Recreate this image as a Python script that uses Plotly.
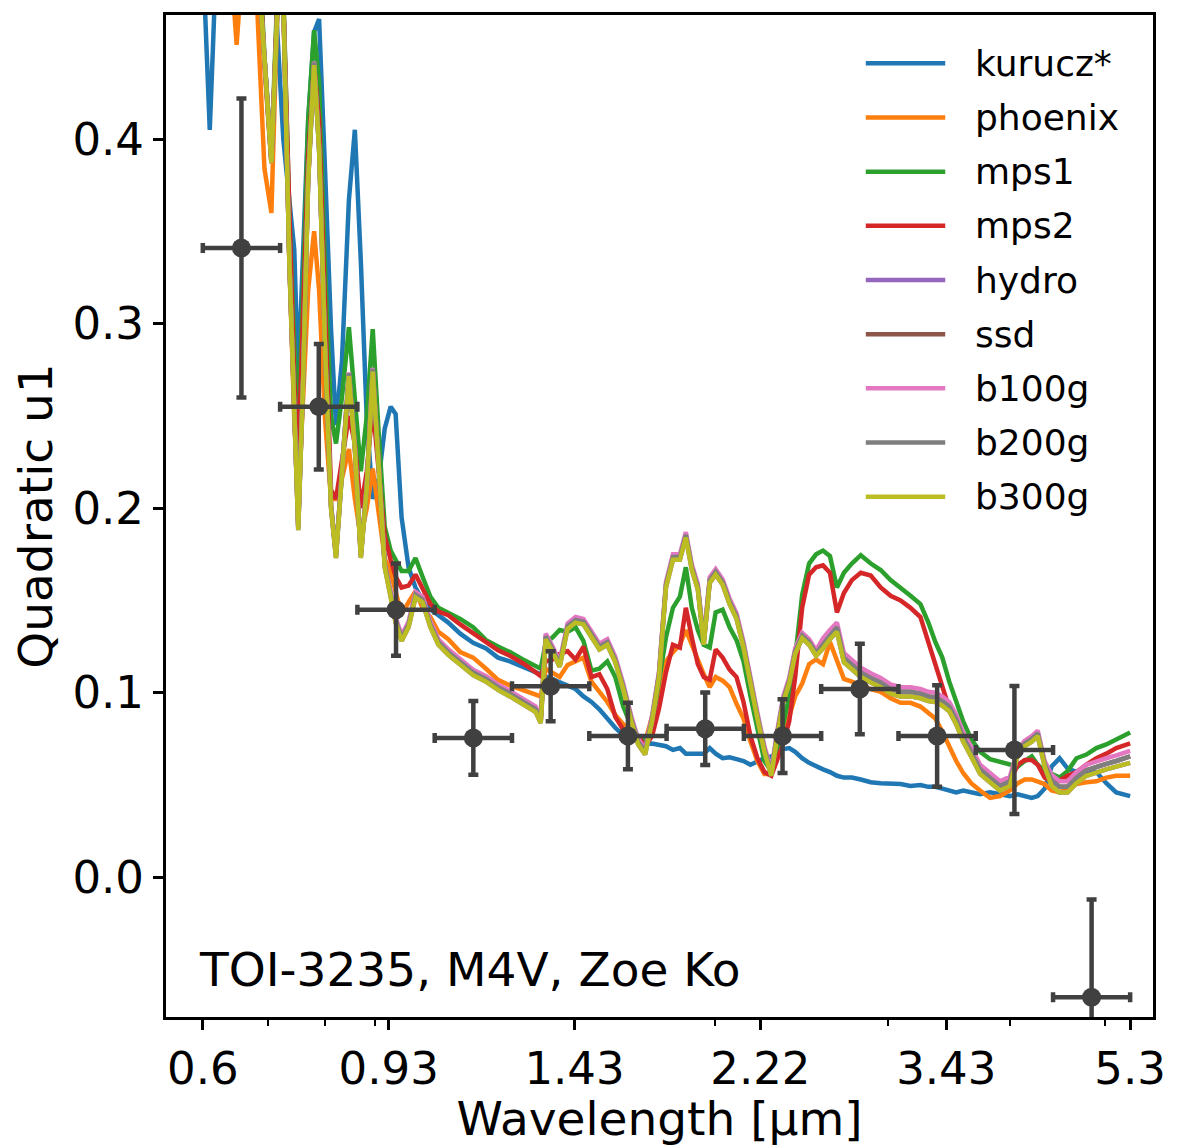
import plotly.graph_objects as go

# ---------------- data ----------------
wavelength = [
    0.6000, 0.6056, 0.6099, 0.6142, 0.6214, 0.6316, 0.6420, 0.6496, 0.6572, 0.6696,
    0.6822, 0.6935, 0.7049, 0.7148, 0.7249, 0.7352, 0.7438, 0.7508, 0.7596, 0.7685,
    0.7793, 0.7885, 0.7996, 0.8109, 0.8204, 0.8320, 0.8457, 0.8576, 0.8697, 0.8820,
    0.8944, 0.9071, 0.9199, 0.9328, 0.9438, 0.9571, 0.9729, 0.9889, 1.0052, 1.0242,
    1.0435,
    1.0681, 1.0985, 1.1323, 1.1672, 1.2004, 1.2345, 1.2726, 1.3118, 1.3272, 1.3428,
    1.3649, 1.3874, 1.4135, 1.4402, 1.4674, 1.4951, 1.5232, 1.5519, 1.5812, 1.6110,
    1.6414, 1.6685, 1.6960, 1.7239, 1.7523, 1.7812, 1.8105, 1.8404, 1.8663, 1.8927,
    1.9194, 1.9464, 1.9739, 2.0018, 2.0347, 2.0683, 2.1023, 2.1370, 2.1723, 2.2081,
    2.2445, 2.2813, 2.3136, 2.3462, 2.3793, 2.4129, 2.4527, 2.4931, 2.5340, 2.5759,
    2.6184, 2.6615, 2.7054, 2.7564, 2.8149, 2.8815, 2.9495, 3.0192, 3.0905, 3.1635,
    3.2383, 3.2993, 3.3534, 3.4090, 3.4652, 3.5222, 3.5803, 3.6478, 3.7253, 3.8133,
    3.9034, 3.9956, 4.0709, 4.1375, 4.2062, 4.2656, 4.3354, 4.4073, 4.4904, 4.5751,
    4.6722, 4.7826, 4.8956, 5.0113, 5.1297, 5.3000,
]

kurucz = [
    0.50, 0.442, 0.405, 0.447, 0.52, 0.56, 0.56, 0.56, 0.56, 0.56,
    0.56, 0.56, 0.53, 0.458, 0.40, 0.37, 0.34, 0.27, 0.335, 0.41,
    0.458, 0.465, 0.383, 0.297, 0.245, 0.28, 0.367, 0.405, 0.334, 0.248,
    0.205, 0.216, 0.243, 0.255, 0.251, 0.195, 0.168, 0.157, 0.150, 0.145,
    0.142,
    0.138, 0.132, 0.127, 0.124, 0.119, 0.117, 0.114, 0.111, 0.110, 0.109,
    0.1075, 0.106, 0.104, 0.102, 0.098, 0.095, 0.091, 0.086, 0.081, 0.077,
    0.075, 0.074, 0.072, 0.0725, 0.072, 0.071, 0.069, 0.070, 0.067, 0.067,
    0.067, 0.067, 0.070, 0.067, 0.0645, 0.065, 0.064, 0.063, 0.061, 0.063,
    0.0645, 0.0655, 0.067, 0.0695, 0.070, 0.068, 0.0645, 0.062, 0.060, 0.0585,
    0.057, 0.055, 0.054, 0.054, 0.053, 0.0515, 0.051, 0.051, 0.0505, 0.0495,
    0.050, 0.049, 0.049, 0.048, 0.047, 0.046, 0.047, 0.046, 0.045, 0.046,
    0.045, 0.044, 0.045, 0.044, 0.043, 0.044, 0.048, 0.060, 0.0645, 0.059,
    0.057, 0.0575, 0.057, 0.051, 0.046, 0.044,
]

phoenix = [
    0.55, 0.55, 0.55, 0.55, 0.55, 0.53, 0.49, 0.451, 0.49, 0.55,
    0.468, 0.384, 0.36, 0.47, 0.48, 0.334, 0.248, 0.205, 0.26, 0.318,
    0.35, 0.318, 0.248, 0.205, 0.205, 0.216, 0.232, 0.205, 0.184, 0.20,
    0.2215, 0.195, 0.173, 0.165, 0.154, 0.1425, 0.149, 0.155, 0.146, 0.141,
    0.133,
    0.129, 0.122, 0.119, 0.113, 0.107, 0.104, 0.1015, 0.099, 0.098, 0.113,
    0.111, 0.1085, 0.115, 0.117, 0.119, 0.106, 0.1005, 0.095, 0.088, 0.083,
    0.079, 0.0765, 0.0735, 0.087, 0.103, 0.117, 0.122, 0.126, 0.134, 0.126,
    0.117, 0.110, 0.103, 0.1085, 0.1065, 0.103, 0.094, 0.086, 0.0735, 0.063,
    0.056, 0.056, 0.068, 0.0765, 0.087, 0.098, 0.105, 0.1155, 0.118, 0.1155,
    0.1275, 0.117, 0.1075, 0.106, 0.104, 0.102, 0.1005, 0.097, 0.0945, 0.0945,
    0.0925, 0.089, 0.086, 0.079, 0.071, 0.063, 0.0565, 0.051, 0.047, 0.043,
    0.044, 0.047, 0.051, 0.053, 0.053, 0.052, 0.0505, 0.047, 0.046, 0.048,
    0.0505, 0.0515, 0.052, 0.054, 0.055, 0.055,
]

mps1 = [
    0.55, 0.55, 0.55, 0.55, 0.55, 0.55, 0.55, 0.55, 0.55, 0.55,
    0.52, 0.445, 0.39, 0.48, 0.48, 0.36, 0.29, 0.245, 0.32, 0.41,
    0.459, 0.43, 0.33, 0.25, 0.235, 0.26, 0.298, 0.26, 0.22, 0.25,
    0.297, 0.24, 0.19, 0.177, 0.172, 0.166, 0.166, 0.173, 0.163, 0.152,
    0.146,
    0.1435, 0.140, 0.1355, 0.1285, 0.125, 0.122, 0.118, 0.1145, 0.113, 0.127,
    0.130, 0.134, 0.133, 0.1355, 0.128, 0.112, 0.113, 0.117, 0.1085, 0.0925,
    0.082, 0.0765, 0.0735, 0.083, 0.1085, 0.130, 0.146, 0.152, 0.168, 0.146,
    0.134, 0.126, 0.1245, 0.1435, 0.145, 0.1355, 0.1285, 0.117, 0.098, 0.079,
    0.063, 0.0575, 0.0655, 0.083, 0.098, 0.119, 0.153, 0.170, 0.175, 0.177,
    0.174, 0.157, 0.165, 0.170, 0.1745, 0.170, 0.1665, 0.161, 0.157, 0.1525,
    0.148, 0.138, 0.1275, 0.119, 0.106, 0.095, 0.0845, 0.075, 0.068, 0.064,
    0.0625, 0.061, 0.060, 0.063, 0.0655, 0.061, 0.0575, 0.056, 0.054, 0.0575,
    0.0645, 0.0665, 0.070, 0.072, 0.075, 0.0785,
]

mps2 = [
    0.55, 0.55, 0.55, 0.55, 0.55, 0.55, 0.55, 0.55, 0.55, 0.55,
    0.52, 0.44, 0.387, 0.475, 0.475, 0.35, 0.27, 0.225, 0.30, 0.39,
    0.44, 0.41, 0.31, 0.21, 0.205, 0.225, 0.25, 0.235, 0.20, 0.22,
    0.255, 0.22, 0.185, 0.172, 0.163, 0.157, 0.158, 0.164, 0.156, 0.148,
    0.144,
    0.142, 0.137, 0.132, 0.127, 0.123, 0.120, 0.116, 0.111, 0.109, 0.117,
    0.118, 0.121, 0.1225, 0.118, 0.125, 0.1085, 0.110, 0.102, 0.087, 0.080,
    0.0775, 0.0765, 0.071, 0.0765, 0.0915, 0.111, 0.126, 0.1245, 0.146, 0.130,
    0.1155, 0.1085, 0.107, 0.1235, 0.119, 0.1125, 0.1085, 0.095, 0.0765, 0.0645,
    0.057, 0.055, 0.063, 0.0725, 0.0845, 0.1085, 0.146, 0.164, 0.168, 0.169,
    0.165, 0.1435, 0.154, 0.161, 0.165, 0.1635, 0.157, 0.1525, 0.150, 0.146,
    0.141, 0.1275, 0.115, 0.103, 0.0915, 0.083, 0.0765, 0.068, 0.060, 0.053,
    0.0495, 0.052, 0.061, 0.0635, 0.0635, 0.061, 0.054, 0.052, 0.0525, 0.055,
    0.057, 0.061, 0.0645, 0.067, 0.070, 0.0725,
]

hydro = [
    0.55, 0.55, 0.55, 0.55, 0.55, 0.55, 0.55, 0.55, 0.55, 0.55,
    0.50, 0.442, 0.387, 0.47, 0.475, 0.334, 0.243, 0.188, 0.27, 0.377,
    0.44, 0.394, 0.286, 0.20, 0.173, 0.221, 0.2715, 0.232, 0.173, 0.211,
    0.274, 0.2215, 0.168, 0.152, 0.138, 0.128, 0.1355, 0.1516, 0.149, 0.1355,
    0.126,
    0.1205, 0.1155, 0.1095, 0.106, 0.1015, 0.098, 0.094, 0.0895, 0.0835, 0.129,
    0.122, 0.114, 0.1345, 0.138, 0.137, 0.130, 0.1235, 0.126, 0.1165, 0.102,
    0.0845, 0.072, 0.0665, 0.0845, 0.1085, 0.157, 0.172, 0.172, 0.184, 0.1665,
    0.156, 0.126, 0.1595, 0.164, 0.1585, 0.148, 0.140, 0.1245, 0.104, 0.086,
    0.068, 0.055, 0.0765, 0.095, 0.105, 0.121, 0.1295, 0.126, 0.120, 0.124,
    0.129, 0.133, 0.1165, 0.1125, 0.1085, 0.1055, 0.103, 0.0995, 0.098, 0.098,
    0.097, 0.0955, 0.095, 0.093, 0.090, 0.083, 0.0735, 0.0655, 0.056, 0.0515,
    0.047, 0.0495, 0.0665, 0.071, 0.0735, 0.0765, 0.060, 0.0495, 0.046, 0.046,
    0.051, 0.055, 0.057, 0.0585, 0.060, 0.062,
]

ssd = [
    0.55, 0.55, 0.55, 0.55, 0.55, 0.55, 0.55, 0.55, 0.55, 0.55,
    0.50, 0.4435, 0.3885, 0.47, 0.475, 0.3355, 0.2445, 0.1895, 0.2715, 0.3785,
    0.4415, 0.3955, 0.2875, 0.2015, 0.1745, 0.2225, 0.273, 0.2335, 0.1745, 0.2125,
    0.2755, 0.223, 0.1695, 0.1535, 0.1395, 0.1295, 0.137, 0.1531, 0.1505, 0.137,
    0.1275,
    0.122, 0.117, 0.111, 0.1075, 0.103, 0.0995, 0.0955, 0.091, 0.085, 0.1305,
    0.1235, 0.1155, 0.136, 0.1395, 0.1385, 0.1315, 0.125, 0.1275, 0.118, 0.1035,
    0.086, 0.0735, 0.068, 0.086, 0.11, 0.1585, 0.1735, 0.1735, 0.1855, 0.168,
    0.1575, 0.1275, 0.161, 0.1655, 0.16, 0.1495, 0.1415, 0.126, 0.1055, 0.0875,
    0.0695, 0.0565, 0.078, 0.0965, 0.1065, 0.1225, 0.131, 0.1275, 0.1215, 0.1265,
    0.1315, 0.1355, 0.119, 0.115, 0.111, 0.108, 0.1055, 0.102, 0.1005, 0.1005,
    0.0995, 0.098, 0.0975, 0.0955, 0.0925, 0.0855, 0.076, 0.068, 0.0585, 0.054,
    0.0495, 0.052, 0.068, 0.0725, 0.075, 0.078, 0.0615, 0.0525, 0.049, 0.049,
    0.054, 0.058, 0.060, 0.0615, 0.063, 0.0655,
]

b100g = [
    0.55, 0.55, 0.55, 0.55, 0.55, 0.55, 0.55, 0.55, 0.55, 0.55,
    0.50, 0.444, 0.389, 0.47, 0.475, 0.336, 0.245, 0.19, 0.272, 0.379,
    0.442, 0.396, 0.288, 0.202, 0.175, 0.223, 0.2735, 0.234, 0.175, 0.213,
    0.276, 0.2235, 0.170, 0.155, 0.141, 0.131, 0.1385, 0.1546, 0.152, 0.1385,
    0.129,
    0.1235, 0.1185, 0.1125, 0.109, 0.1045, 0.101, 0.097, 0.0925, 0.0865, 0.132,
    0.125, 0.117, 0.1375, 0.141, 0.140, 0.133, 0.1265, 0.129, 0.1195, 0.105,
    0.0875, 0.075, 0.0695, 0.0875, 0.1115, 0.160, 0.175, 0.175, 0.187, 0.1695,
    0.159, 0.129, 0.1625, 0.167, 0.1615, 0.151, 0.143, 0.1275, 0.107, 0.089,
    0.071, 0.058, 0.0795, 0.098, 0.108, 0.124, 0.1325, 0.129, 0.123, 0.1295,
    0.134, 0.138, 0.1215, 0.1175, 0.1135, 0.1105, 0.108, 0.1045, 0.103, 0.103,
    0.102, 0.1005, 0.100, 0.098, 0.095, 0.088, 0.0785, 0.0705, 0.061, 0.0565,
    0.052, 0.0545, 0.0695, 0.074, 0.0765, 0.0795, 0.063, 0.0555, 0.052, 0.052,
    0.057, 0.061, 0.063, 0.0645, 0.066, 0.0685,
]

b200g = [
    0.55, 0.55, 0.55, 0.55, 0.55, 0.55, 0.55, 0.55, 0.55, 0.55,
    0.50, 0.4435, 0.3885, 0.47, 0.475, 0.3355, 0.2445, 0.1895, 0.2715, 0.3785,
    0.4415, 0.3955, 0.2875, 0.2015, 0.1745, 0.2225, 0.273, 0.2335, 0.1745, 0.2125,
    0.2755, 0.223, 0.1695, 0.1535, 0.1395, 0.1295, 0.137, 0.1531, 0.1505, 0.137,
    0.1275,
    0.122, 0.117, 0.111, 0.1075, 0.103, 0.0995, 0.0955, 0.091, 0.085, 0.1305,
    0.1235, 0.1155, 0.136, 0.1395, 0.1385, 0.1315, 0.125, 0.1275, 0.118, 0.1035,
    0.086, 0.0735, 0.068, 0.086, 0.11, 0.1585, 0.1735, 0.1735, 0.1855, 0.168,
    0.1575, 0.1275, 0.161, 0.1655, 0.16, 0.1495, 0.1415, 0.126, 0.1055, 0.0875,
    0.0695, 0.0565, 0.078, 0.0965, 0.1065, 0.1225, 0.131, 0.1275, 0.1215, 0.1265,
    0.1315, 0.1355, 0.119, 0.115, 0.111, 0.108, 0.1055, 0.102, 0.1005, 0.1005,
    0.0995, 0.098, 0.0975, 0.0955, 0.0925, 0.0855, 0.076, 0.068, 0.0585, 0.054,
    0.0495, 0.052, 0.068, 0.0725, 0.075, 0.078, 0.0615, 0.0525, 0.049, 0.049,
    0.054, 0.058, 0.060, 0.0615, 0.063, 0.0655,
]

b300g = [
    0.55, 0.55, 0.55, 0.55, 0.55, 0.55, 0.55, 0.55, 0.55, 0.55,
    0.50, 0.442, 0.387, 0.47, 0.475, 0.334, 0.243, 0.188, 0.27, 0.377,
    0.44, 0.394, 0.286, 0.20, 0.173, 0.221, 0.2715, 0.232, 0.173, 0.211,
    0.274, 0.2215, 0.168, 0.152, 0.138, 0.128, 0.1355, 0.1516, 0.149, 0.1355,
    0.126,
    0.1205, 0.1155, 0.1095, 0.106, 0.1015, 0.098, 0.094, 0.0895, 0.0835, 0.129,
    0.122, 0.114, 0.1345, 0.138, 0.137, 0.130, 0.1235, 0.126, 0.1165, 0.102,
    0.0845, 0.072, 0.0665, 0.0845, 0.1085, 0.157, 0.172, 0.172, 0.184, 0.1665,
    0.156, 0.126, 0.1595, 0.164, 0.1585, 0.148, 0.140, 0.1245, 0.104, 0.086,
    0.068, 0.055, 0.0765, 0.095, 0.105, 0.121, 0.1295, 0.126, 0.120, 0.124,
    0.129, 0.133, 0.1165, 0.1125, 0.1085, 0.1055, 0.103, 0.0995, 0.098, 0.098,
    0.097, 0.0955, 0.095, 0.093, 0.090, 0.083, 0.0735, 0.0655, 0.056, 0.0515,
    0.047, 0.0495, 0.0665, 0.071, 0.0735, 0.0765, 0.060, 0.0495, 0.046, 0.046,
    0.051, 0.055, 0.057, 0.0585, 0.060, 0.062,
]

series_names = ["kurucz*", "phoenix", "mps1", "mps2", "hydro", "ssd", "b100g", "b200g", "b300g"]
series_values = [kurucz, phoenix, mps1, mps2, hydro, ssd, b100g, b200g, b300g]
series_colors = ["#1f77b4", "#ff7f0e", "#2ca02c", "#d62728", "#9467bd",
                 "#8c564b", "#e377c2", "#7f7f7f", "#bcbd22"]

# measured band-integrated coefficients
bin_lo = [0.6, 0.7195, 0.8627, 1.0345, 1.2405, 1.4875, 1.7837, 2.1389, 2.5648, 3.0755, 3.6879, 4.4222]
bin_hi = [0.7195, 0.8627, 1.0345, 1.2405, 1.4875, 1.7837, 2.1389, 2.5648, 3.0755, 3.6879, 4.4222, 5.3]
bin_center = [0.6570, 0.7879, 0.9447, 1.1328, 1.3584, 1.6289, 1.9532, 2.3422, 2.8086, 3.3678, 4.0385, 4.8412]
u1_obs = [0.341, 0.255, 0.145, 0.0755, 0.1035, 0.0765, 0.0805, 0.0765, 0.102, 0.0765, 0.069, -0.065]
u1_err = [0.081, 0.034, 0.025, 0.020, 0.019, 0.018, 0.0196, 0.020, 0.0245, 0.0275, 0.0347, 0.053]

xtick_vals = [0.6, 0.9285, 1.4368, 2.2235, 3.441, 5.3]
xtick_text = ["0.6", "0.93", "1.43", "2.22", "3.43", "5.3"]
xminor_vals = [0.7, 0.8, 0.9, 2, 3, 4, 5]
ytick_vals = [0.0, 0.1, 0.2, 0.3, 0.4]
ytick_text = ["0.0", "0.1", "0.2", "0.3", "0.4"]

# ---------------- figure ----------------
FONT = "DejaVu Sans"
LINE_W = 4.5
fig = go.Figure()

for name, vals, color in zip(series_names, series_values, series_colors):
    fig.add_trace(go.Scatter(
        x=wavelength, y=vals, mode="lines", name=name,
        line=dict(color=color, width=LINE_W), showlegend=False,
    ))

err_plus = [hi - c for hi, c in zip(bin_hi, bin_center)]
err_minus = [c - lo for lo, c in zip(bin_lo, bin_center)]
fig.add_trace(go.Scatter(
    x=bin_center, y=u1_obs, mode="markers", name="data", showlegend=False,
    marker=dict(size=19, color="#404040"),
    error_x=dict(type="data", symmetric=False, array=err_plus, arrayminus=err_minus,
                 color="#404040", thickness=4.5, width=5),
    error_y=dict(type="data", array=u1_err, color="#404040", thickness=4.5, width=5),
))

# legend drawn like the original (long line samples)
leg_y0 = 0.9518
leg_dy = 0.05407
for i, (name, color) in enumerate(zip(series_names, series_colors)):
    y = leg_y0 - i * leg_dy
    fig.add_shape(type="line", xref="paper", yref="paper",
                  x0=0.7090, x1=0.7895, y0=y, y1=y,
                  line=dict(color=color, width=LINE_W))
    fig.add_annotation(xref="paper", yref="paper", x=0.8177, y=y,
                       xanchor="left", yanchor="middle", showarrow=False,
                       text=name, font=dict(family=FONT, size=36, color="black"))

fig.add_annotation(xref="paper", yref="paper", x=0.0312, y=0.047,
                   xanchor="left", yanchor="middle", showarrow=False,
                   text="TOI-3235, M4V, Zoe Ko",
                   font=dict(family=FONT, size=47, color="black"))

fig.update_layout(
    width=1178, height=1146,
    margin=dict(l=166, r=19, t=12, b=123),
    paper_bgcolor="white", plot_bgcolor="white",
    font=dict(family=FONT, color="black", size=45),
    showlegend=False,
)

fig.update_xaxes(
    type="log", range=[-0.2594, 0.7476],
    tickmode="array", tickvals=xtick_vals, ticktext=xtick_text,
    ticks="outside", ticklen=10, tickwidth=2.5, tickcolor="black",
    showline=True, linewidth=3, linecolor="black", mirror=True,
    showgrid=False, zeroline=False,
    tickfont=dict(family=FONT, size=45, color="black"),
    title=dict(text="Wavelength [µm]", font=dict(family=FONT, size=47, color="black"), standoff=6),
    minor=dict(tickmode="array", tickvals=xminor_vals, ticks="outside",
               ticklen=6, tickwidth=2, tickcolor="black", showgrid=False),
)

fig.update_yaxes(
    range=[-0.0757, 0.4672],
    tickmode="array", tickvals=ytick_vals, ticktext=ytick_text,
    ticks="outside", ticklen=10, tickwidth=2.5, tickcolor="black",
    showline=True, linewidth=3, linecolor="black", mirror=True,
    showgrid=False, zeroline=False,
    tickfont=dict(family=FONT, size=45, color="black"),
    title=dict(text="Quadratic u1", font=dict(family=FONT, size=47, color="black"), standoff=5),
)

fig.write_html("out.html")
